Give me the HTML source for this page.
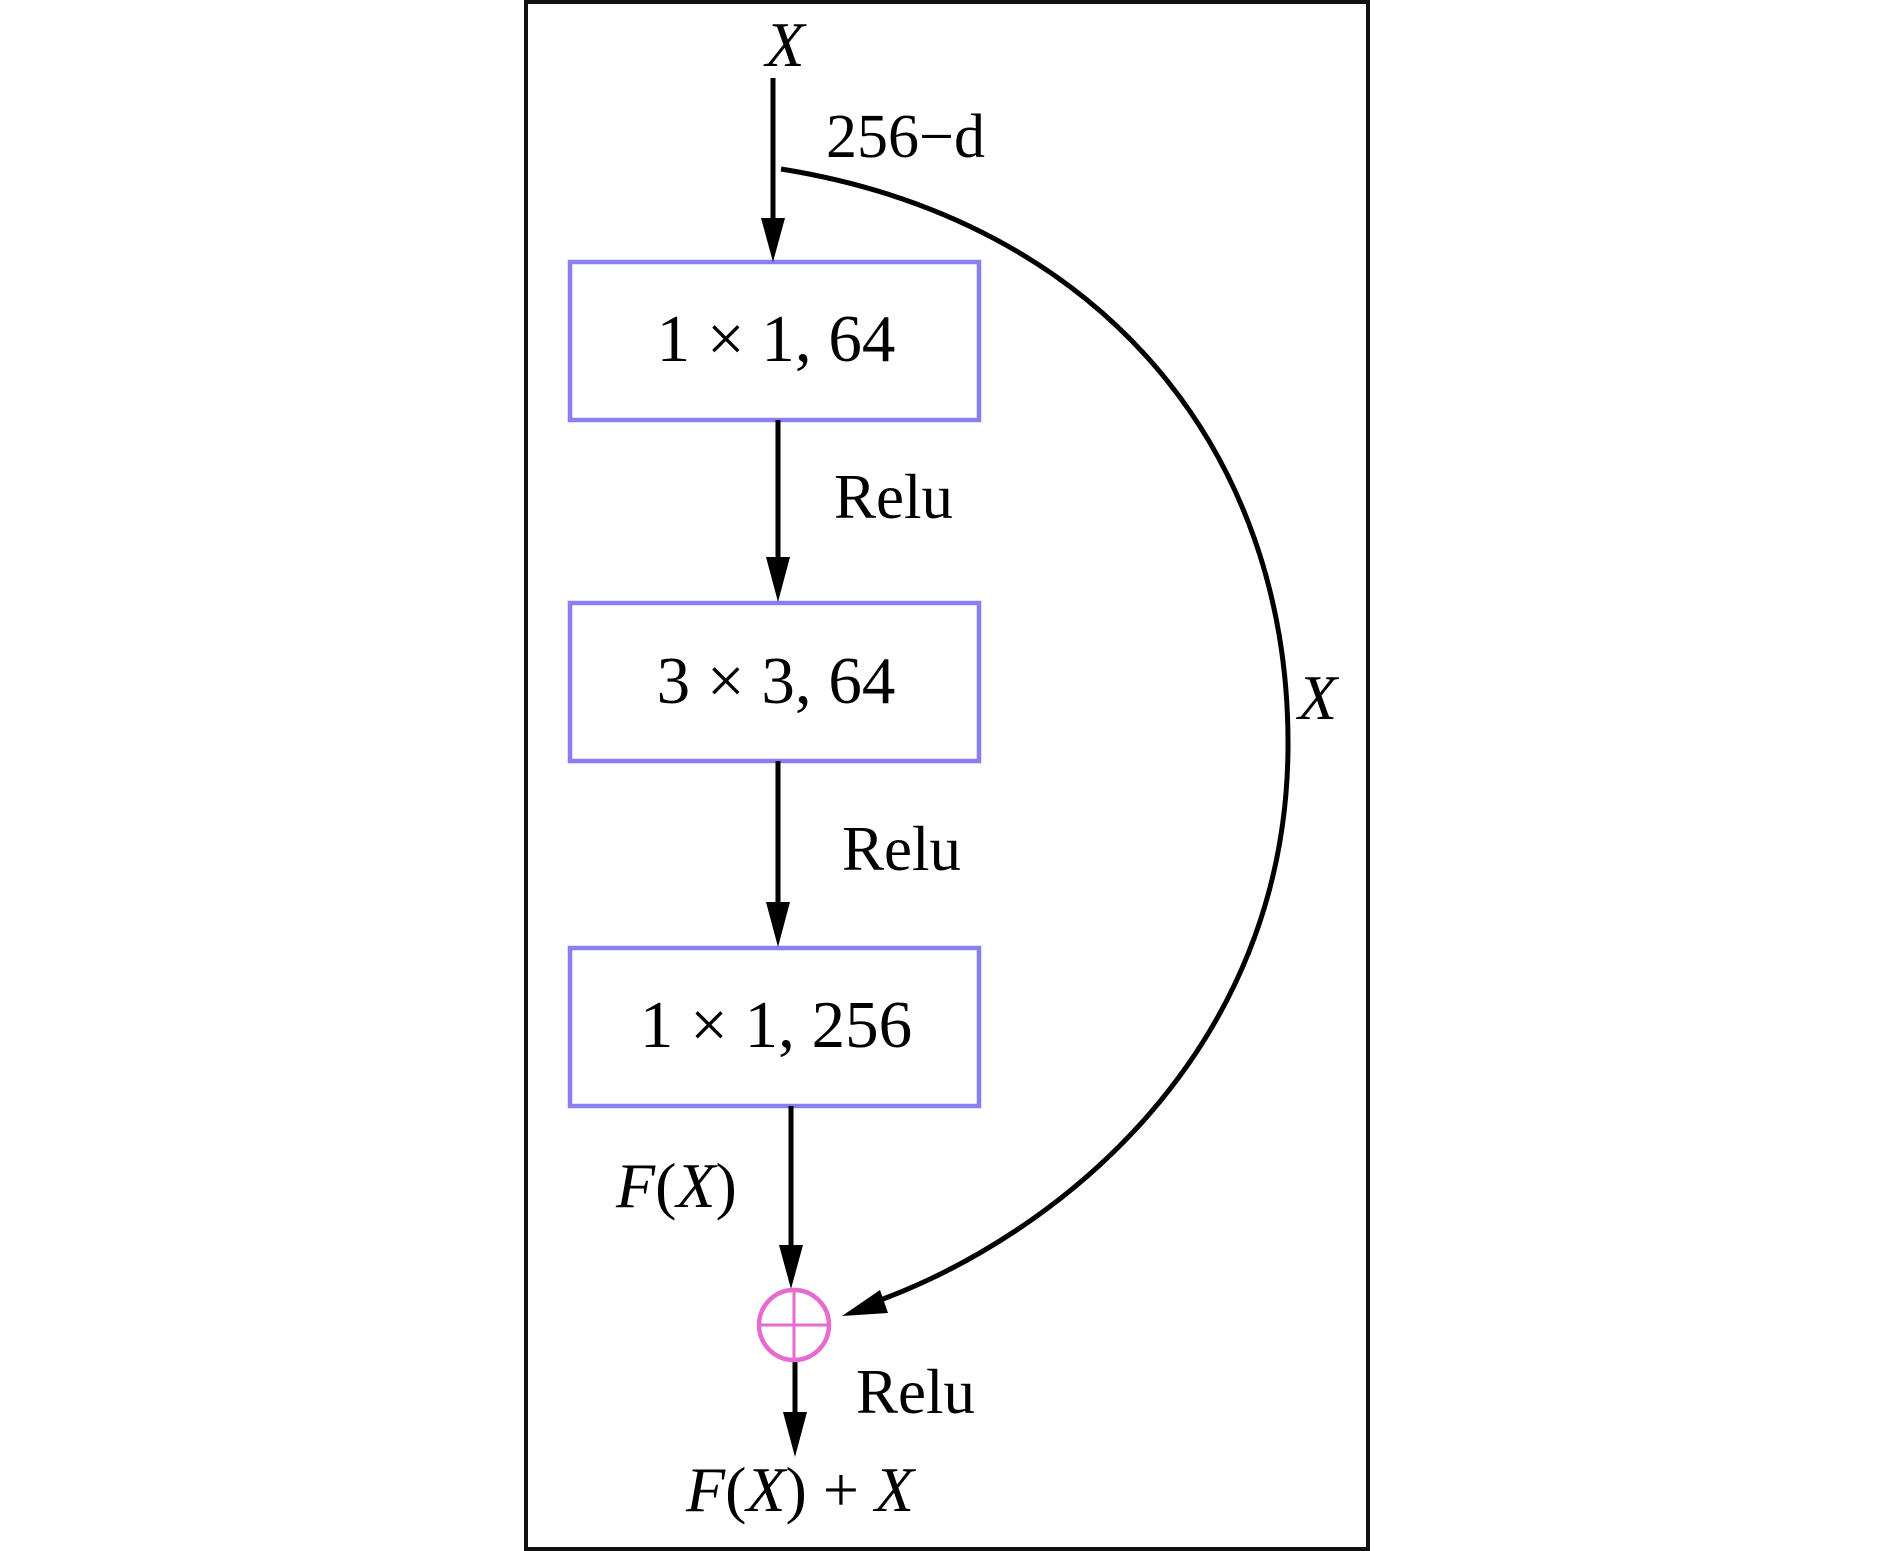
<!DOCTYPE html>
<html><head><meta charset="utf-8"><style>
html,body{margin:0;padding:0;background:#fff;}
svg{display:block;}
text{font-family:"Liberation Serif",serif;fill:#000;}
</style></head><body>
<svg width="1890" height="1551" viewBox="0 0 1890 1551" xmlns="http://www.w3.org/2000/svg">
<rect x="526" y="2" width="842" height="1547" fill="none" stroke="#111" stroke-width="4"/>
<rect x="570" y="262" width="409" height="158" fill="#fff" stroke="#8a7ff0" stroke-width="4.5"/>
<rect x="570" y="603" width="409" height="158" fill="#fff" stroke="#8a7ff0" stroke-width="4.5"/>
<rect x="570" y="948" width="409" height="158" fill="#fff" stroke="#8a7ff0" stroke-width="4.5"/>
<text x="776" y="361" font-size="67" text-anchor="middle">1 × 1, 64</text>
<text x="776" y="703" font-size="67" text-anchor="middle">3 × 3, 64</text>
<text x="776" y="1047" font-size="67" text-anchor="middle">1 × 1, 256</text>
<g stroke="#000" stroke-width="5" fill="none">
<line x1="773" y1="78" x2="773" y2="225"/>
<line x1="778" y1="420" x2="778" y2="565"/>
<line x1="778" y1="761" x2="778" y2="910"/>
<line x1="791" y1="1106" x2="791" y2="1253"/>
<line x1="795" y1="1361" x2="795" y2="1420"/>
<path d="M781,169 C1100,220 1290,450 1288,748 C1286,1050 1060,1235 875,1302"/>
</g>
<g fill="#000">
<polygon points="761,218 785,218 773,262"/>
<polygon points="766,557 790,557 778,602"/>
<polygon points="766,902 790,902 778,947"/>
<polygon points="779,1245 803,1245 791,1289"/>
<polygon points="783,1412 807,1412 795,1457"/>
<polygon points="842,1316 880,1290 888,1313"/>
</g>
<circle cx="794" cy="1325" r="35" fill="none" stroke="#e66ad0" stroke-width="4.5"/>
<line x1="759" y1="1325" x2="829" y2="1325" stroke="#e66ad0" stroke-width="3"/>
<line x1="794" y1="1290" x2="794" y2="1360" stroke="#e66ad0" stroke-width="3"/>
<text x="785" y="66" font-size="64" font-style="italic" text-anchor="middle">X</text>
<text x="826" y="157" font-size="62">256−d</text>
<text x="834" y="518" font-size="63">Relu</text>
<text x="842" y="870" font-size="63">Relu</text>
<text x="616" y="1207" font-size="64" font-style="italic">F<tspan font-style="normal">(</tspan>X<tspan font-style="normal">)</tspan></text>
<text x="856" y="1413" font-size="63">Relu</text>
<text x="1298" y="719" font-size="64" font-style="italic">X</text>
<text x="686" y="1511" font-size="64" font-style="italic">F<tspan font-style="normal">(</tspan>X<tspan font-style="normal">) + </tspan>X</text>
</svg>
</body></html>
